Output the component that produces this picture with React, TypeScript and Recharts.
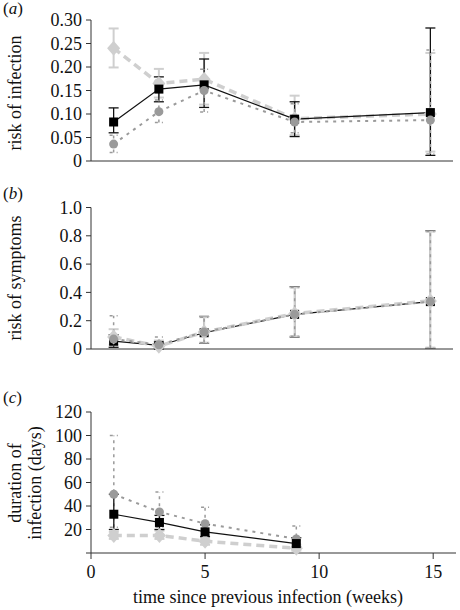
import React from "react";
import { LineChart, Line, XAxis, YAxis, ErrorBar, Label } from "recharts";

const FONT = "Liberation Serif";
const AXIS = "#333";

// weeks since previous infection
const weeks = [1, 3, 5, 9, 15];
const weeksC = [1, 3, 5, 9];

// (a) risk of infection
const aSq = [0.083, 0.153, 0.162, 0.089, 0.103];
const aSqLo = [0.06, 0.126, 0.114, 0.052, 0.012];
const aSqHi = [0.113, 0.179, 0.217, 0.126, 0.283];
const aCi = [0.036, 0.105, 0.15, 0.083, 0.087];
const aCiLo = [0.018, 0.082, 0.104, 0.06, 0.015];
const aCiHi = [0.055, 0.13, 0.195, 0.122, 0.236];
const aDi = [0.24, 0.165, 0.174, 0.09, 0.1];
const aDiLo = [0.199, 0.135, 0.12, 0.055, 0.02];
const aDiHi = [0.282, 0.196, 0.23, 0.139, 0.23];

// (b) risk of symptoms
const bSq = [0.055, 0.025, 0.115, 0.245, 0.335];
const bSqLo = [0.012, 0.005, 0.04, 0.085, 0.005];
const bSqHi = [0.1, 0.05, 0.23, 0.44, 0.835];
const bCi = [0.07, 0.03, 0.12, 0.245, 0.335];
const bCiLo = [0.02, 0.0, 0.045, 0.09, 0.005];
const bCiHi = [0.235, 0.085, 0.225, 0.435, 0.83];
const bDi = [0.085, 0.02, 0.12, 0.25, 0.34];
const bDiLo = [0.03, 0.0, 0.045, 0.09, 0.01];
const bDiHi = [0.14, 0.06, 0.225, 0.435, 0.83];

// (c) duration of infection (days)
const cSq = [33, 26, 18, 8];
const cSqLo = [20, 20, 14, 5];
const cSqHi = [50, 32, 24, 13];
const cCi = [50, 35, 25, 12];
const cCiLo = [22, 22, 18, 8];
const cCiHi = [100, 52, 39, 23];
const cDi = [15, 15, 10, 4];
const cDiLo = [12, 12, 7, 2];
const cDiHi = [18, 19, 13, 7];

const aTicks = [0, 0.05, 0.1, 0.15, 0.2, 0.25, 0.3];
const bTicks = [0, 0.2, 0.4, 0.6, 0.8, 1.0];
const cTicks = [0, 20, 40, 60, 80, 100, 120];

function buildRows(x: number[], sq: number[][], ci: number[][], di: number[][]) {
  return x.map((week, i) => ({
    week,
    sq: sq[0][i],
    sqErr: [sq[0][i] - sq[1][i], sq[2][i] - sq[0][i]],
    ci: ci[0][i],
    ciErr: [ci[0][i] - ci[1][i], ci[2][i] - ci[0][i]],
    di: di[0][i],
    diErr: [di[0][i] - di[1][i], di[2][i] - di[0][i]],
  }));
}

const dataA = buildRows(weeks, [aSq, aSqLo, aSqHi], [aCi, aCiLo, aCiHi], [aDi, aDiLo, aDiHi]);
const dataB = buildRows(weeks, [bSq, bSqLo, bSqHi], [bCi, bCiLo, bCiHi], [bDi, bDiLo, bDiHi]);
const dataC = buildRows(weeksC, [cSq, cSqLo, cSqHi], [cCi, cCiLo, cCiHi], [cDi, cDiLo, cDiHi]);

const squareDot = (p: any) => (
  <rect key={`sq-${p.index}`} x={p.cx - 4.5} y={p.cy - 4.5} width={9} height={9} fill="#000" />
);
const circleDot = (p: any) => (
  <circle key={`ci-${p.index}`} cx={p.cx} cy={p.cy} r={4.5} fill="#9a9a9a" />
);
const diamondDot = (p: any) => (
  <polygon
    key={`di-${p.index}`}
    points={`${p.cx},${p.cy - 7.5} ${p.cx + 6.5},${p.cy} ${p.cx},${p.cy + 7.5} ${p.cx - 6.5},${p.cy}`}
    fill="#cfcfcf"
  />
);

// serif tick labels, drawn by hand so the font sticks
const yTick = (fmt: (v: number) => string) => (p: any) => (
  <text x={p.x} y={p.y} dy="0.35em" textAnchor="end" fontFamily={FONT} fontSize={18} fill="#111">
    {fmt(p.payload.value)}
  </text>
);
const xTick = (p: any) => (
  <text x={p.x} y={p.y} dy="0.71em" textAnchor="middle" fontFamily={FONT} fontSize={18} fill="#111">
    {p.payload.value}
  </text>
);

function panelTitle(tag: string, lines: string[], cy: number) {
  return () => (
    <g fontFamily={FONT} fill="#111">
      <text x={3} y={tag === "a" ? 14 : tag === "b" ? 19 : 23} fontSize={17}>
        (<tspan fontStyle="italic">{tag}</tspan>)
      </text>
      {lines.map((l, i) => (
        <text
          key={l}
          x={21 + i * 20}
          y={cy}
          fontSize={18}
          textAnchor="middle"
          transform={`rotate(-90, ${21 + i * 20}, ${cy})`}
        >
          {l}
        </text>
      ))}
    </g>
  );
}

function lines(order: string[]) {
  return order.map((k) => {
    if (k === "di")
      return (
        <Line
          key="di"
          type="linear"
          dataKey="di"
          stroke="#cfcfcf"
          strokeWidth={3.5}
          strokeDasharray="8 5"
          dot={diamondDot}
          activeDot={false}
          isAnimationActive={false}
        >
          <ErrorBar dataKey="diErr" width={5} stroke="#cfcfcf" strokeWidth={2} />
        </Line>
      );
    if (k === "ci")
      return (
        <Line
          key="ci"
          type="linear"
          dataKey="ci"
          stroke="#9a9a9a"
          strokeWidth={2}
          strokeDasharray="3 5"
          dot={circleDot}
          activeDot={false}
          isAnimationActive={false}
        >
          <ErrorBar dataKey="ciErr" width={4} stroke="#9a9a9a" strokeWidth={1.5} strokeDasharray="3 4" />
        </Line>
      );
    return (
      <Line
        key="sq"
        type="linear"
        dataKey="sq"
        stroke="#111"
        strokeWidth={1.2}
        dot={squareDot}
        activeDot={false}
        isAnimationActive={false}
      >
        <ErrorBar dataKey="sqErr" width={5} stroke="#111" strokeWidth={1.3} />
      </Line>
    );
  });
}

export default function App() {
  return (
    <div
      style={{
        position: "absolute",
        left: 0,
        top: 0,
        width: 460,
        height: 610,
        background: "#fff",
        fontFamily: FONT,
      }}
    >
      <div style={{ position: "absolute", left: 0, top: 0 }}>
        <LineChart width={460} height={172} data={dataA} margin={{ top: 20, right: 7, bottom: 3, left: 0 }}>
          <XAxis
            dataKey="week"
            type="number"
            domain={[0, 16]}
            ticks={[5, 10, 15]}
            tick={false}
            tickSize={6}
            height={8}
            axisLine={{ stroke: AXIS }}
            tickLine={{ stroke: AXIS }}
          />
          <YAxis
            type="number"
            domain={[0, 0.3]}
            ticks={aTicks}
            interval={0}
            width={91}
            tickSize={5}
            tickMargin={4}
            tick={yTick((v) => (v === 0 ? "0" : v.toFixed(2)))}
            axisLine={{ stroke: AXIS }}
            tickLine={{ stroke: AXIS }}
          >
            <Label content={panelTitle("a", ["risk of infection"], 93)} />
          </YAxis>
          {lines(["di", "sq", "ci"])}
        </LineChart>
      </div>

      <div style={{ position: "absolute", left: 0, top: 180 }}>
        <LineChart width={460} height={180} data={dataB} margin={{ top: 27.5, right: 7, bottom: 3, left: 0 }}>
          <XAxis
            dataKey="week"
            type="number"
            domain={[0, 16]}
            ticks={[5, 10, 15]}
            tick={false}
            tickSize={6}
            height={8}
            axisLine={{ stroke: AXIS }}
            tickLine={{ stroke: AXIS }}
          />
          <YAxis
            type="number"
            domain={[0, 1]}
            ticks={bTicks}
            interval={0}
            width={91}
            tickSize={5}
            tickMargin={4}
            tick={yTick((v) => (v === 0 ? "0" : v.toFixed(1)))}
            axisLine={{ stroke: AXIS }}
            tickLine={{ stroke: AXIS }}
          >
            <Label content={panelTitle("b", ["risk of symptoms"], 98)} />
          </YAxis>
          {lines(["sq", "di", "ci"])}
        </LineChart>
      </div>

      <div style={{ position: "absolute", left: 0, top: 380 }}>
        <LineChart width={460} height={230} data={dataC} margin={{ top: 32, right: 4, bottom: 7, left: 0 }}>
          <XAxis
            dataKey="week"
            type="number"
            domain={[0, 16]}
            ticks={[0, 5, 10, 15]}
            interval={0}
            tick={xTick}
            tickSize={6}
            tickMargin={6}
            height={50}
            axisLine={{ stroke: AXIS }}
            tickLine={{ stroke: AXIS }}
          >
            <Label
              content={() => (
                <text x={268} y={223} textAnchor="middle" fontSize={18} fontFamily={FONT} fill="#111">
                  time since previous infection (weeks)
                </text>
              )}
            />
          </XAxis>
          <YAxis
            type="number"
            domain={[0, 120]}
            ticks={cTicks}
            interval={0}
            width={91}
            tickSize={5}
            tickMargin={4}
            tick={yTick((v) => (v === 0 ? "" : String(v)))}
            axisLine={{ stroke: AXIS }}
            tickLine={{ stroke: AXIS }}
          >
            <Label content={panelTitle("c", ["duration of", "infection (days)"], 103)} />
          </YAxis>
          {lines(["di", "ci", "sq"])}
        </LineChart>
      </div>
    </div>
  );
}
